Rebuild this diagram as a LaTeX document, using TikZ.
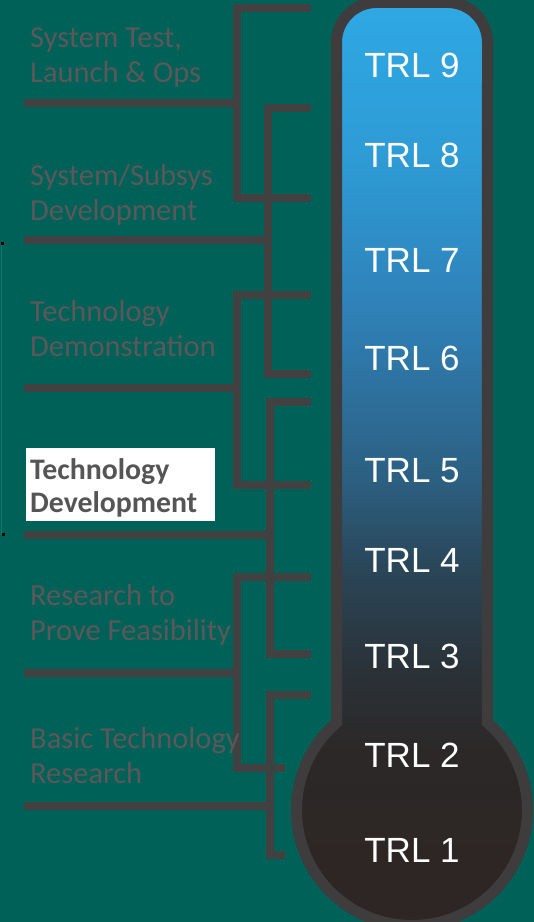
\documentclass[tikz,border=0pt]{standalone}
\usepackage{fontspec}
\usepackage{tikz}
\newfontfamily\stagefont{Carlito}
\newfontfamily\trlfont{Liberation Sans}

\definecolor{bgteal}{RGB}{0,97,89}
\definecolor{rimgray}{RGB}{62,60,61}
\definecolor{bracketgray}{RGB}{65,65,65}
\definecolor{stagegray}{RGB}{92,87,88}
\definecolor{boxtext}{RGB}{85,85,85}
\definecolor{edgeteal}{RGB}{20,115,106}
\definecolor{thA}{RGB}{46,37,35}
\definecolor{thB}{RGB}{44,40,40}
\definecolor{thC}{RGB}{42,50,56}
\definecolor{thD}{RGB}{42,70,88}
\definecolor{thE}{RGB}{44,96,130}
\definecolor{thF}{RGB}{47,130,185}
\definecolor{thG}{RGB}{46,156,214}
\definecolor{thH}{RGB}{46,168,228}

\pgfdeclareverticalshading{thermofill}{100bp}{color(0bp)=(thA); color(25bp)=(thA);
  color(35bp)=(thB); color(39.4bp)=(thC); color(44.8bp)=(thD); color(49.7bp)=(thE);
  color(58.9bp)=(thF); color(67bp)=(thG); color(75bp)=(thH); color(100bp)=(thH)}

\tikzset{
  bracket/.style={draw=bracketgray, line width=8},
  stagelabel/.style={text=stagegray, font=\stagefont\fontsize{30.5}{35}\selectfont,
    align=left, inner sep=0pt, anchor=base west},
  activelabel/.style={stagelabel, text=boxtext, font=\stagefont\bfseries\fontsize{29.8}{33}\selectfont},
  trl/.style={text=white, font=\trlfont\fontsize{35}{40}\selectfont, inner sep=0pt, anchor=base}
}

\begin{document}
\begin{tikzpicture}[x=1pt,y=1pt]
	\useasboundingbox (0,0) rectangle (534,922);
	\clip (0,0) rectangle (534,922);
	\fill[bgteal] (0,0) rectangle (534,922);
	
	% left edge marks
	\draw[edgeteal, line width=1.5] (1.5,678) -- (1.5,387);
	\fill[black] (1,676.5) rectangle (4,679.5);
	\fill[black] (1.5,385.5) rectangle (4.5,388.5);
	
	% brackets
	\foreach \n/\xv/\yt/\yb/\ym/\xe in {1/237/914/724/819/311, 2/268/814/548/682/311,
		3/237/627/437/534/311, 4/270/520/268/387/311, 5/237/345/154/249/285, 6/270/227/67/116/285}
	{
		\coordinate (tick\n-top) at (311,\yt);
		\coordinate (tick\n-bot) at (\xe,\yb);
		\coordinate (stem\n) at (24,\ym);
		\draw[bracket] (tick\n-top) -| (\xv,\yb) -- (tick\n-bot);
		\draw[bracket] (stem\n) -- (\xv,\ym);
	}
	
	% thermometer
	\shadedraw[shading=thermofill, draw=rimgray, line width=11]
		(336.5,199.4) arc[start angle=130.8, end angle=409.2, radius=115.5]
		-- (487.5,879.5) arc[start angle=0, end angle=90, radius=40]
		-- (376.5,919.5) arc[start angle=90, end angle=180, radius=40] -- cycle;
	
	\foreach \lv/\yb in {9/844, 8/754, 7/649, 6/551, 5/439, 4/349, 3/253, 2/154, 1/59}
		\node[trl] (trl\lv) at (412,\yb) {TRL \lv};
	
	% stage labels (base = last line)
	\node[stagelabel] (stage1) at (30,839) {System Test,\\Launch \& Ops};
	\node[stagelabel] (stage2) at (30,701) {System/Subsys\\Development};
	\node[stagelabel] (stage3) at (30,565) {Technology\\Demonstration};
	\fill[white] (26,401) rectangle (215,474);
	\node[activelabel] (stage4) at (30,409) {Technology\\Development};
	\node[stagelabel] (stage5) at (30,281) {Research to\\Prove Feasibility};
	\node[stagelabel] (stage6) at (30,138) {Basic Technology\\Research};
\end{tikzpicture}
\end{document}
